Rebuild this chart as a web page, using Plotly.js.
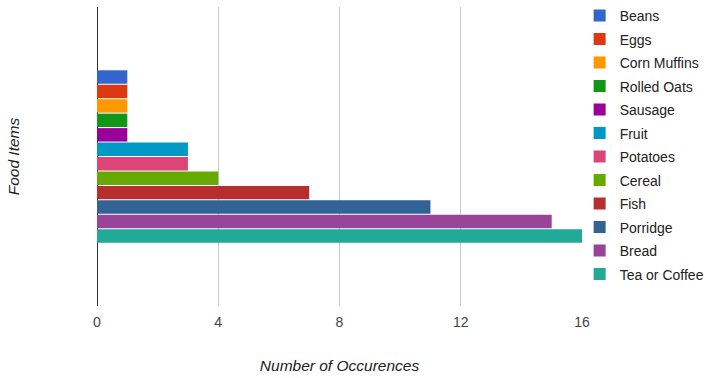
<!DOCTYPE html>
<html><head><meta charset="utf-8">
<script src="https://cdn.plot.ly/plotly-3.0.1.min.js"></script>
<style>html,body{margin:0;padding:0;background:#fff}#chart{width:706px;height:378px}</style>
</head><body><div id="chart"></div>
<script>
const seriesNames = ["Beans","Eggs","Corn Muffins","Rolled Oats","Sausage","Fruit","Potatoes","Cereal","Fish","Porridge","Bread","Tea or Coffee"];
const seriesValues = [1,1,1,1,1,3,3,4,7,11,15,16];
const seriesColors = ["#3366cc","#dc3912","#ff9900","#109618","#990099","#0099c6","#dd4477","#66aa00","#b82e2e","#316395","#994499","#22aa99"];
const category = ["Food"];
const xTicks = [0,4,8,12,16];

const traces = seriesNames.map((n,i)=>({
  type:'bar', orientation:'h', name:n, legendgroup:n,
  y:category, x:[seriesValues[i]],
  marker:{color:seriesColors[i], line:{width:0}},
  hoverinfo:'x+name'
}));

const layout = {
  width:706, height:378,
  margin:{l:97, r:124, t:7, b:72, autoexpand:false},
  paper_bgcolor:'#fff', plot_bgcolor:'#fff',
  font:{family:'"Liberation Sans", Arial, sans-serif', size:14, color:'#444'},
  barmode:'group', bargap:0.42, bargroupgap:0.07,
  xaxis:{range:[0,16], tickvals:xTicks, ticktext:xTicks.map(String),
    showgrid:true, gridcolor:'#cccccc', gridwidth:1,
    zeroline:true, zerolinecolor:'#333333', zerolinewidth:1,
    showline:false, ticks:'', ticklabelstandoff:6,
    tickfont:{size:14, color:'#444'},
    title:{text:'<i>Number of Occurences</i>', font:{size:15.5, color:'#222'}, standoff:31}},
  yaxis:{autorange:'reversed', showticklabels:false, showgrid:false, zeroline:false, showline:false, ticks:'',
    title:{text:'<i>Food Items</i>', font:{size:15.5, color:'#222'}, standoff:72}},
  legend:{xref:'container', yref:'container', x:0.821, xanchor:'left', y:1.006, yanchor:'top',
    traceorder:'grouped', tracegroupgap:2.3, maxheight:378, bgcolor:'rgba(0,0,0,0)',
    font:{size:14, color:'#222'}, itemwidth:30},
  showlegend:true
};
Plotly.newPlot('chart', traces, layout, {displayModeBar:false, staticPlot:true});
</script></body></html>
